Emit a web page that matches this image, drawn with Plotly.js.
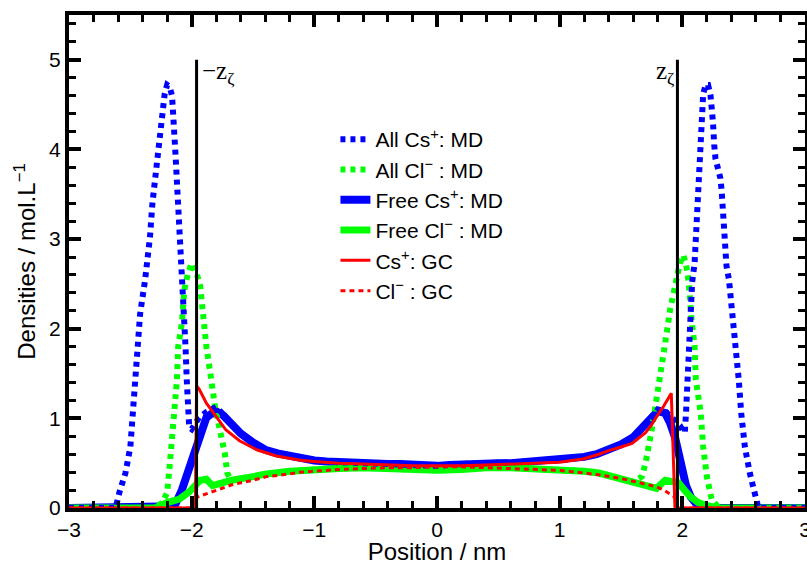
<!DOCTYPE html>
<html>
<head>
<meta charset="utf-8">
<script src="https://cdn.plot.ly/plotly-3.0.1.min.js"></script>
<style>html,body{margin:0;padding:0;background:#fff}#chart{width:807px;height:565px}</style>
</head>
<body>
<div id="chart"></div>
<script>
// ---- data ----
var zeta = 1.96;
var zetaTop = 5;

var freeCsX = [-3.0,-2.3,-2.2,-2.14,-2.08,-2.02,-1.98,-1.95,-1.91,-1.88,-1.84,-1.79,-1.74,-1.67,-1.6,-1.5,-1.4,-1.3,-1.2,-1.1,-1.0,-0.9,-0.8,-0.7,-0.6,-0.5,-0.4,-0.3,-0.2,-0.1,0,0.1,0.2,0.3,0.4,0.5,0.6,0.7,0.8,0.9,1.0,1.1,1.2,1.3,1.4,1.5,1.6,1.7,1.75,1.8,1.86,1.9,1.94,1.99,2.03,2.07,2.13,2.2,3.0];
var freeCsY = [0,0,0,0.02,0.2,0.46,0.65,0.76,0.92,1.01,1.05,1.07,1.03,0.92,0.83,0.73,0.65,0.61,0.58,0.55,0.53,0.52,0.51,0.5,0.5,0.5,0.49,0.49,0.48,0.48,0.47,0.48,0.49,0.49,0.5,0.5,0.5,0.51,0.51,0.52,0.53,0.55,0.57,0.6,0.65,0.71,0.79,0.92,0.99,1.08,1.06,0.95,0.79,0.46,0.25,0.12,0.02,0,0];

var freeClX = [-3.0,-2.3,-2.2,-2.1,-2.02,-1.96,-1.93,-1.88,-1.83,-1.78,-1.67,-1.5,-1.39,-1.2,-1.0,-0.8,-0.6,-0.4,-0.2,0,0.2,0.4,0.6,0.8,1.0,1.2,1.32,1.5,1.59,1.7,1.79,1.86,1.92,1.97,2.03,2.07,2.13,2.19,2.3,3.0];
var freeClY = [0,0,0.06,0.1,0.18,0.28,0.31,0.32,0.25,0.27,0.31,0.35,0.38,0.41,0.43,0.44,0.45,0.44,0.43,0.42,0.43,0.45,0.45,0.44,0.43,0.41,0.39,0.33,0.28,0.25,0.22,0.31,0.3,0.28,0.18,0.12,0.06,0.03,0,0];

var allCsX = [-3.0,-2.62,-2.59,-2.54,-2.50,-2.48,-2.45,-2.44,-2.42,-2.38,-2.36,-2.34,-2.32,-2.30,-2.28,-2.26,-2.24,-2.22,-2.20,-2.18,-2.16,-2.15,-2.14,-2.13,-2.12,-2.11,-2.10,-2.08,-2.06,-2.05,-2.04,-2.03,-2.02,-2.00,-1.94,-1.88,-1.80,-1.74,-1.67,-1.6,-1.5,-1.4,-1.3,-1.2,-1.1,-1.0,-0.8,-0.6,-0.4,-0.2,0,0.2,0.4,0.6,0.8,1.0,1.2,1.3,1.4,1.5,1.6,1.7,1.75,1.8,1.86,1.92,
              1.98,2.01,2.02,2.03,2.04,2.05,2.06,2.08,2.10,2.11,2.12,2.13,2.14,2.15,2.16,2.17,2.19,2.21,2.23,2.24,2.25,2.26,2.27,2.29,2.31,2.32,2.33,2.34,2.35,2.36,2.38,2.41,2.44,2.46,2.48,2.51,2.55,2.59,2.62,3.0];
var allCsY = [0,0,0.17,0.39,0.68,1.06,1.43,1.80,2.17,2.54,2.73,3.02,3.40,3.66,3.90,4.25,4.47,4.62,4.72,4.70,4.60,4.45,4.14,3.90,3.66,3.32,2.95,2.51,2.17,1.80,1.43,1.06,0.90,0.88,1.01,1.07,1.13,1.04,0.92,0.83,0.73,0.65,0.61,0.58,0.55,0.53,0.51,0.5,0.49,0.48,0.47,0.49,0.5,0.5,0.51,0.53,0.57,0.6,0.65,0.71,0.79,0.93,1.01,1.1,1.08,1.0,
              0.92,0.85,0.84,1.06,1.43,1.80,2.17,2.52,2.73,3.02,3.40,3.66,3.91,4.14,4.40,4.62,4.72,4.72,4.60,4.49,4.30,4.05,3.90,3.79,3.68,3.55,3.35,3.10,2.85,2.70,2.55,2.17,1.80,1.43,1.06,0.68,0.39,0.17,0,0];

var allClX = [-3.0,-2.3,-2.24,-2.20,-2.18,-2.16,-2.14,-2.12,-2.11,-2.08,-2.06,-2.03,-2.00,-1.96,-1.93,-1.91,-1.88,-1.84,-1.81,-1.77,-1.73,-1.71,-1.68,-1.5,-1.39,-1.2,-1.0,-0.8,-0.6,-0.4,-0.2,0,0.2,0.4,0.6,0.8,1.0,1.2,1.32,1.5,1.6,1.67,1.70,1.75,1.79,1.82,1.86,1.90,1.94,1.98,2.01,2.04,2.06,2.07,2.10,2.11,2.15,2.17,2.20,2.24,2.3,3.0];
var allClY = [0,0,0.06,0.17,0.46,0.76,1.06,1.43,1.80,2.06,2.43,2.62,2.73,2.62,2.47,2.17,1.80,1.43,1.13,0.87,0.61,0.39,0.31,0.35,0.38,0.41,0.43,0.44,0.45,0.44,0.43,0.42,0.43,0.45,0.45,0.44,0.43,0.41,0.39,0.33,0.29,0.35,0.50,0.87,1.2,1.43,1.84,2.21,2.47,2.73,2.82,2.65,2.40,2.17,1.80,1.43,1.06,0.68,0.35,0.09,0,0];

var gcCsX = [-3.0,-1.97,-1.96,-1.94,-1.88,-1.80,-1.72,-1.61,-1.47,-1.31,-1.2,-1.1,-1.0,-0.8,-0.6,-0.4,-0.2,0,0.2,0.4,0.6,0.8,1.0,1.1,1.2,1.32,1.4,1.5,1.59,1.7,1.75,1.8,1.85,1.91,1.94,3.0];
var gcCsY = [0,0,1.36,1.33,1.17,1.02,0.87,0.75,0.65,0.58,0.55,0.53,0.52,0.5,0.49,0.48,0.47,0.47,0.47,0.48,0.49,0.5,0.51,0.53,0.55,0.6,0.64,0.68,0.72,0.84,0.93,1.04,1.14,1.28,0,0];

var gcClX = [-3.0,-1.97,-1.96,-1.8,-1.67,-1.5,-1.39,-1.2,-1.12,-1.0,-0.8,-0.6,-0.4,-0.2,0,0.2,0.4,0.6,0.8,1.0,1.2,1.32,1.5,1.59,1.7,1.78,1.85,1.94,1.95,3.0];
var gcClY = [0,0,0.12,0.2,0.26,0.31,0.35,0.38,0.40,0.41,0.43,0.44,0.45,0.45,0.46,0.46,0.45,0.44,0.43,0.42,0.39,0.37,0.33,0.30,0.27,0.24,0.2,0.12,0,0];

var names = ['All Cs<sup>+</sup>: MD','All Cl<sup>\u2212</sup> : MD','Free Cs<sup>+</sup>: MD','Free Cl<sup>\u2212</sup> : MD','Cs<sup>+</sup>: GC','Cl<sup>\u2212</sup> : GC'];

var BLUE = '#0000ff', GREEN = '#00ff00', RED = '#ff0000';
var SANS = 'Liberation Sans, Arial, sans-serif';

var traces = [
  {x: freeCsX, y: freeCsY, name: names[2], legendrank: 3, mode: 'lines', line: {color: BLUE, width: 8}},
  {x: freeClX, y: freeClY, name: names[3], legendrank: 4, mode: 'lines', line: {color: GREEN, width: 7}},
  {x: allClX, y: allClY, name: names[1], legendrank: 2, mode: 'lines', line: {color: GREEN, width: 6, dash: '5px,5px'}},
  {x: allCsX, y: allCsY, name: names[0], legendrank: 1, mode: 'lines', line: {color: BLUE, width: 6, dash: '5px,5px'}},
  {x: gcCsX, y: gcCsY, name: names[4], legendrank: 5, mode: 'lines', line: {color: RED, width: 3}},
  {x: gcClX, y: gcClY, name: names[5], legendrank: 6, mode: 'lines', line: {color: RED, width: 3, dash: '5px,4px'}},
  {x: [-zeta, -zeta], y: [0, zetaTop], mode: 'lines', showlegend: false, hoverinfo: 'skip', line: {color: '#000', width: 3}},
  {x: [zeta, zeta], y: [0, zetaTop], mode: 'lines', showlegend: false, hoverinfo: 'skip', line: {color: '#000', width: 3}}
];

var axisCommon = {
  showline: true, linecolor: '#000', linewidth: 4, mirror: 'ticks',
  ticks: 'inside', ticklen: 12, tickwidth: 4, tickcolor: '#000',
  showgrid: false, zeroline: false, ticklabeloverflow: 'allow',
  tickfont: {family: SANS, size: 21, color: '#000'},
  minor: {dtick: 0.2, ticks: 'inside', ticklen: 7, tickwidth: 3, tickcolor: '#000', showgrid: false}
};

var layout = {
  width: 807, height: 565,
  margin: {l: 69, r: 2, t: 15, b: 57},
  paper_bgcolor: '#fff', plot_bgcolor: '#fff',
  showlegend: true,
  legend: {x: 0.362, y: 0.789, xanchor: 'left', yanchor: 'top', bgcolor: 'rgba(0,0,0,0)',
           font: {family: SANS, size: 21, color: '#000'},
           tracegroupgap: 0},
  xaxis: Object.assign({}, axisCommon, {
    range: [-3, 3], dtick: 1, tick0: 0,
    title: {text: 'Position / nm', font: {family: SANS, size: 24, color: '#000'}, standoff: 6}
  }),
  yaxis: Object.assign({}, axisCommon, {
    range: [0, 5.5], dtick: 1, tick0: 0,
    title: {text: 'Densities / mol.L<sup>\u22121</sup>', font: {family: SANS, size: 24, color: '#000'}, standoff: 8}
  }),
  annotations: [
    {x: -zeta, y: zetaTop, xref: 'x', yref: 'y', xanchor: 'left', yanchor: 'top', xshift: 3, yshift: 5, showarrow: false,
     text: '\u2212z<sub>\u03b6</sub>', font: {family: 'Liberation Serif, Times New Roman, serif', size: 25, color: '#000'}},
    {x: zeta, y: zetaTop, xref: 'x', yref: 'y', xanchor: 'right', yanchor: 'top', xshift: -1, yshift: 5, showarrow: false,
     text: 'z<sub>\u03b6</sub>', font: {family: 'Liberation Serif, Times New Roman, serif', size: 25, color: '#000'}}
  ]
};

Plotly.newPlot('chart', traces, layout, {staticPlot: true, displayModeBar: false});
</script>
</body>
</html>
